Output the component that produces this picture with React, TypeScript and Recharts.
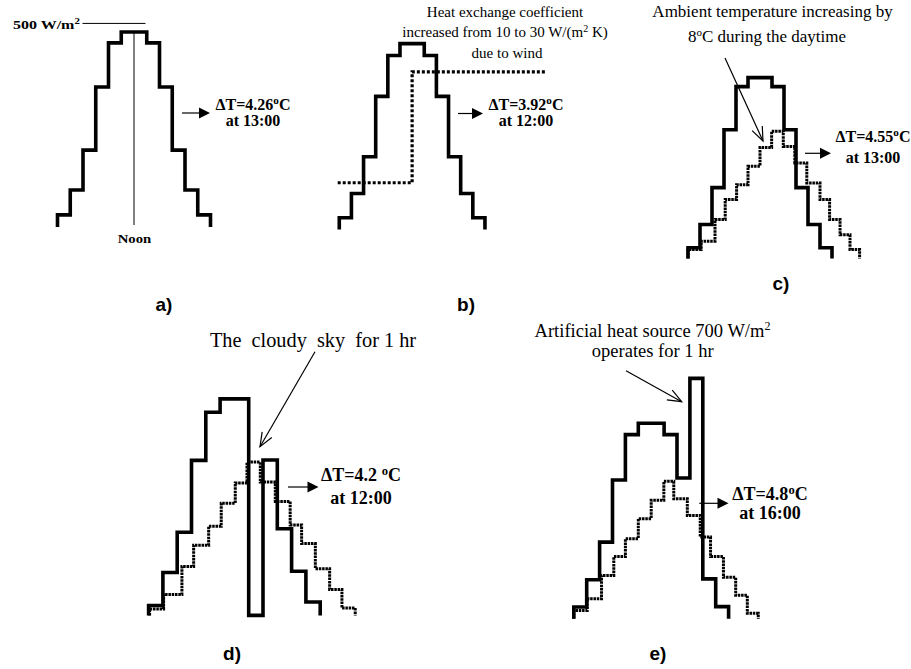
import { Line, LineChart, ReferenceLine, XAxis, YAxis } from "recharts"

// hour boundaries 6:00 .. 18:00
const HOURS = [6, 7, 8, 9, 10, 11, 12, 13, 14, 15, 16, 17, 18]

// solar irradiance (W/m2), one value per hour
const SOLAR_A = [31, 95, 197, 359, 472, 500, 500, 472, 359, 197, 95, 31]
const SOLAR_B = [32, 97, 196, 358, 468, 500, 500, 468, 358, 196, 97, 32]
const SOLAR_C = [30, 94, 196, 356, 475, 500, 500, 475, 356, 196, 94, 30]
const SOLAR_D = [23, 99, 192, 358, 469, 500, 500, 0, 359, 200, 102, 31]
const SOLAR_E = [30, 100, 196, 355, 471, 500, 500, 471, 360, 615, 102, 31]

// heat exchange coefficient W/(m2 K), panel b
const COEF_TIMES = [5.87, 12, 23.1]
const COEF_VALUES = [10, 30]

// dotted response curves (same units as irradiance axis)
const RESP_C_TIMES = [6, 7.1, 8.25, 9.1, 10.05, 11, 12, 12.97, 13.94, 14.9, 15.9, 17, 17.8, 18.67, 19.5, 20.3]
const RESP_C = [25, 48, 108, 163, 204, 255, 307, 352, 310, 264, 209, 163, 108, 66, 25]
const RESP_D_TIMES = [6.07, 7.05, 8.33, 9.15, 10.2, 11.08, 12.06, 12.88, 13.81, 14.86, 15.9, 16.7, 17.66, 18.66, 19.52, 20.45]
const RESP_D = [15, 48, 113, 162, 206, 259, 306, 354, 308, 263, 209, 166, 108, 60, 17]
const RESP_E_TIMES = [6, 7.04, 8.15, 9.1, 10, 11, 12, 12.98, 13.75, 14.8, 15.8, 16.6, 17.6, 18.55, 19.45, 20.3]
const RESP_E = [21, 51, 111, 159, 205, 256, 303, 352, 307, 264, 209, 159, 106, 60, 14]

const X_DOMAIN: [number, number] = [4, 24]
const Y_DOMAIN: [number, number] = [-100, 800]

type Frame = { x6: number; hourPx: number; y0: number; unitPx: number }

const FRAME_A: Frame = { x6: 57.3, hourPx: 12.75, y0: 227, unitPx: 0.39 }
const FRAME_B: Frame = { x6: 339.3, hourPx: 12.14, y0: 230, unitPx: 0.372 }
const FRAME_C: Frame = { x6: 688.3, hourPx: 12.0, y0: 259, unitPx: 0.362 }
const FRAME_D: Frame = { x6: 148.3, hourPx: 14.3, y0: 615, unitPx: 0.433 }
const FRAME_E: Frame = { x6: 573.3, hourPx: 12.9, y0: 618.3, unitPx: 0.391 }

type Pt = { x: number; y: number }

function steps(times: number[], levels: number[], base?: number): Pt[] {
  const pts: Pt[] = []
  if (base !== undefined) pts.push({ x: times[0], y: base })
  levels.forEach((v, i) => {
    pts.push({ x: times[i], y: v }, { x: times[i + 1], y: v })
  })
  if (base !== undefined) pts.push({ x: times[times.length - 1], y: base })
  return pts
}

const SERIF = "'Liberation Serif', 'Times New Roman', serif"
const SANS = "'Liberation Sans', Arial, sans-serif"

type PanelProps = {
  frame: Frame
  solar: number[]
  resp?: { times: number[]; values: number[] }
  coef?: boolean
  noon?: boolean
}

function Panel({ frame, solar, resp, coef, noon }: PanelProps) {
  const left = frame.x6 - (6 - X_DOMAIN[0]) * frame.hourPx
  const width = (X_DOMAIN[1] - X_DOMAIN[0]) * frame.hourPx
  const top = frame.y0 - Y_DOMAIN[1] * frame.unitPx
  const height = (Y_DOMAIN[1] - Y_DOMAIN[0]) * frame.unitPx
  // coefficient axis: 10 -> 126, 30 -> 424 on the irradiance scale
  const k = (424 - 126) / 20
  const coefDomain: [number, number] = [10 + (Y_DOMAIN[0] - 126) / k, 10 + (Y_DOMAIN[1] - 126) / k]

  return (
    <div style={{ position: "absolute", left, top }}>
      <LineChart width={width} height={height} margin={{ top: 0, right: 0, bottom: 0, left: 0 }}>
        <XAxis type="number" dataKey="x" domain={X_DOMAIN} hide allowDataOverflow />
        <YAxis type="number" dataKey="y" domain={Y_DOMAIN} hide allowDataOverflow />
        {coef && (
          <YAxis yAxisId="h" type="number" dataKey="y" domain={coefDomain} hide allowDataOverflow orientation="right" />
        )}
        {noon && (
          <ReferenceLine
            segment={[
              { x: 12, y: 5 },
              { x: 12, y: 500 },
            ]}
            stroke="#000"
            strokeWidth={1}
          />
        )}
        {noon && (
          <ReferenceLine
            segment={[
              { x: 7.96, y: 522 },
              { x: 12.9, y: 522 },
            ]}
            stroke="#000"
            strokeWidth={1}
          />
        )}
        {coef && (
          <Line
            yAxisId="h"
            data={steps(COEF_TIMES, COEF_VALUES)}
            dataKey="y"
            type="linear"
            stroke="#000"
            strokeWidth={3.2}
            strokeDasharray="3 2"
            dot={false}
            isAnimationActive={false}
          />
        )}
        {resp && (
          <Line
            data={steps(resp.times, resp.values, 0)}
            dataKey="y"
            type="linear"
            stroke="#000"
            strokeWidth={3}
            strokeDasharray="2.5 0.8"
            strokeLinejoin="miter"
            dot={false}
            isAnimationActive={false}
          />
        )}
        <Line
          data={steps(HOURS, solar, 0)}
          dataKey="y"
          type="linear"
          stroke="#000"
          strokeWidth={3.6}
          strokeLinejoin="miter"
          dot={false}
          isAnimationActive={false}
        />
      </LineChart>
    </div>
  )
}

function ResultArrow({ x1, x2, y }: { x1: number; x2: number; y: number }) {
  return (
    <g>
      <line x1={x1} y1={y} x2={x2 - 10} y2={y} stroke="#000" strokeWidth={1.2} />
      <polygon points={`${x2 - 11},${y - 5.5} ${x2},${y} ${x2 - 11},${y + 5.5}`} fill="#000" />
    </g>
  )
}

function PointerArrow({ x1, y1, x2, y2 }: { x1: number; y1: number; x2: number; y2: number }) {
  const a = Math.atan2(y2 - y1, x2 - x1)
  const len = 15
  const s = 0.38
  const w1 = { x: x2 - len * Math.cos(a - s), y: y2 - len * Math.sin(a - s) }
  const w2 = { x: x2 - len * Math.cos(a + s), y: y2 - len * Math.sin(a + s) }
  return (
    <g stroke="#000" strokeWidth={1.2} fill="none">
      <line x1={x1} y1={y1} x2={x2} y2={y2} />
      <polyline points={`${w1.x},${w1.y} ${x2},${y2} ${w2.x},${w2.y}`} />
    </g>
  )
}

function DeltaLabel({ x, y, dt, at, size, gap }: { x: number; y: number; dt: string; at: string; size: number; gap: number }) {
  return (
    <g fontFamily={SERIF} fontWeight="bold" fontSize={size} textAnchor="middle">
      <text x={x} y={y}>
        {"\u0394T=" + dt}
        <tspan fontSize={size * 0.7} dy={-size * 0.35}>o</tspan>
        <tspan dy={size * 0.35}>C</tspan>
      </text>
      <text x={x} y={y + gap}>{"at " + at}</text>
    </g>
  )
}

function Annotations() {
  return (
    <svg width={911} height={669} style={{ position: "absolute", left: 0, top: 0, pointerEvents: "none" }}>
      {/* panel a */}
      <text transform="translate(13,29) scale(1.28,1)" fontFamily={SERIF} fontWeight="bold" fontSize={12.5}>
        500 W/m<tspan fontSize={8.5} dy={-5}>2</tspan>
      </text>
      <text transform="translate(134.5,243) scale(1.15,1)" fontFamily={SERIF} fontWeight="bold" fontSize={12.8} textAnchor="middle">
        Noon
      </text>
      <ResultArrow x1={182} x2={210} y={113} />
      <DeltaLabel x={253} y={109.5} dt="4.26" at="13:00" size={16} gap={16} />
      <text x={164} y={311} fontFamily={SANS} fontWeight="bold" fontSize={19} textAnchor="middle">a)</text>

      {/* panel b */}
      <g fontFamily={SERIF} fontSize={15} textAnchor="middle">
        <text x={505} y={16.5}>Heat exchange coefficient</text>
        <text x={505} y={37}>
          increased from 10 to 30 W/(m<tspan fontSize={10} dy={-5}>2</tspan>
          <tspan dy={5}> K)</tspan>
        </text>
        <text x={507} y={57.5}>due to wind</text>
      </g>
      <ResultArrow x1={458} x2={483} y={113.5} />
      <DeltaLabel x={526} y={110} dt="3.92" at="12:00" size={16} gap={15.5} />
      <text x={466} y={311} fontFamily={SANS} fontWeight="bold" fontSize={19} textAnchor="middle">b)</text>

      {/* panel c */}
      <g fontFamily={SERIF} fontSize={17} textAnchor="middle">
        <text x={772.5} y={17}>Ambient temperature increasing by</text>
        <text x={767} y={41.5}>
          8<tspan fontSize={11} dy={-6}>o</tspan>
          <tspan dy={6}>C during the daytime</tspan>
        </text>
      </g>
      <PointerArrow x1={725} y1={58} x2={763} y2={141} />
      <ResultArrow x1={805} x2={831} y={153.3} />
      <DeltaLabel x={873} y={141.5} dt="4.55" at="13:00" size={16} gap={21} />
      <text x={781} y={290} fontFamily={SANS} fontWeight="bold" fontSize={19} textAnchor="middle">c)</text>

      {/* panel d */}
      <text x={313} y={347} fontFamily={SERIF} fontSize={20.3} textAnchor="middle" style={{ whiteSpace: "pre" }}>
        {"The  cloudy  sky  for 1 hr"}
      </text>
      <PointerArrow x1={315} y1={351.7} x2={260} y2={446.7} />
      <ResultArrow x1={288} x2={318.5} y={487} />
      <DeltaLabel x={361} y={481} dt="4.2 " at="12:00" size={18} gap={22.5} />
      <text x={232} y={660} fontFamily={SANS} fontWeight="bold" fontSize={19} textAnchor="middle">d)</text>

      {/* panel e */}
      <g fontFamily={SERIF} fontSize={18.5} textAnchor="middle">
        <text x={652.5} y={336.5}>
          Artificial heat source 700 W/m<tspan fontSize={12} dy={-7}>2</tspan>
        </text>
        <text x={652.7} y={357}>operates for 1 hr</text>
      </g>
      <PointerArrow x1={626} y1={370.7} x2={681.7} y2={401.7} />
      <ResultArrow x1={699.3} x2={728.5} y={503.3} />
      <DeltaLabel x={770} y={500} dt="4.8" at="16:00" size={18} gap={19} />
      <text x={658} y={660} fontFamily={SANS} fontWeight="bold" fontSize={19} textAnchor="middle">e)</text>
    </svg>
  )
}

export default function App() {
  return (
    <div style={{ position: "absolute", left: 0, top: 0, width: 911, height: 669, background: "#fff", overflow: "hidden" }}>
      <Panel frame={FRAME_A} solar={SOLAR_A} noon />
      <Panel frame={FRAME_B} solar={SOLAR_B} coef />
      <Panel frame={FRAME_C} solar={SOLAR_C} resp={{ times: RESP_C_TIMES, values: RESP_C }} />
      <Panel frame={FRAME_D} solar={SOLAR_D} resp={{ times: RESP_D_TIMES, values: RESP_D }} />
      <Panel frame={FRAME_E} solar={SOLAR_E} resp={{ times: RESP_E_TIMES, values: RESP_E }} />
      <Annotations />
    </div>
  )
}
